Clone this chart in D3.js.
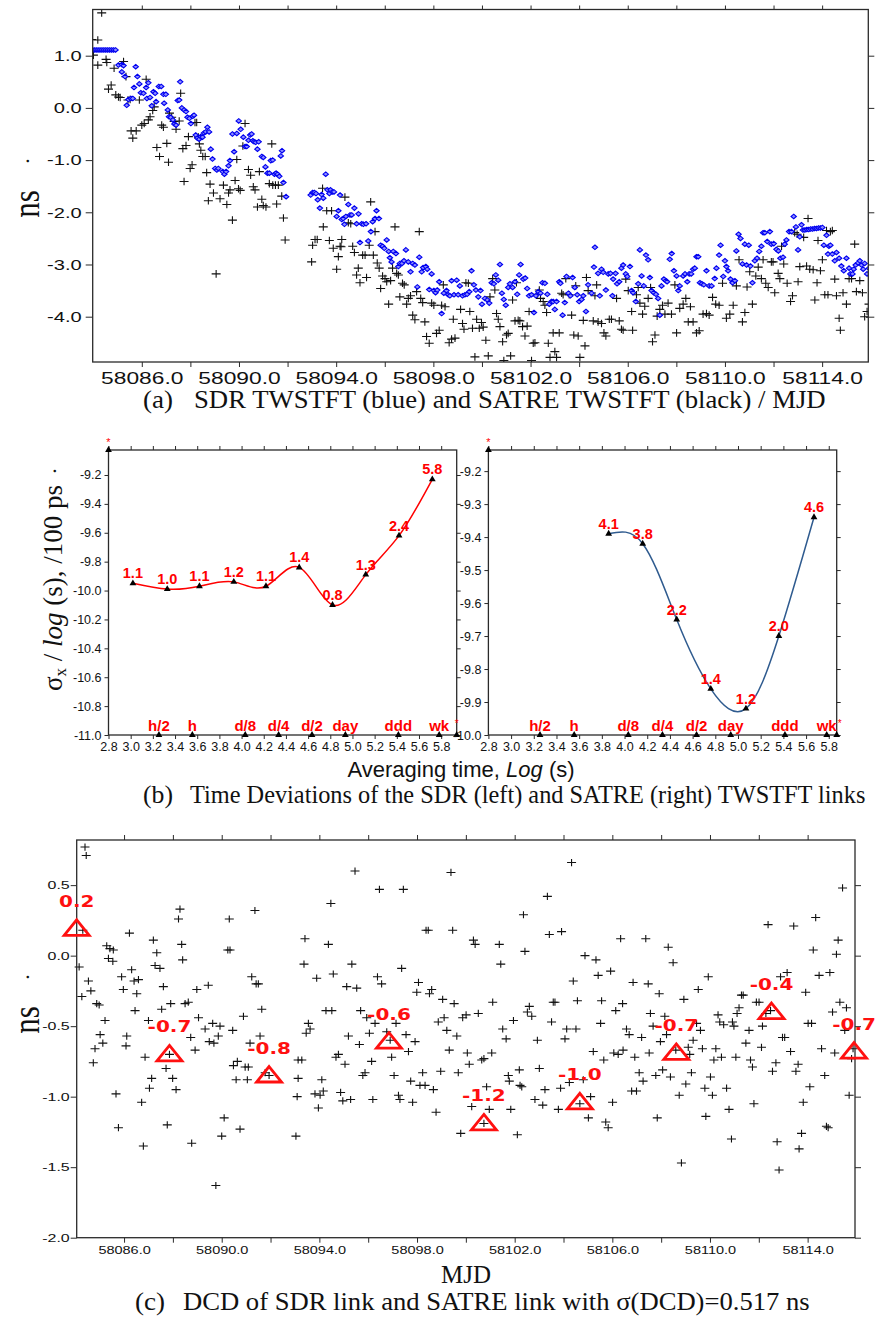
<!DOCTYPE html>
<html><head><meta charset="utf-8">
<script src="https://cdn.jsdelivr.net/npm/d3@7"></script>
<style>body{margin:0;background:#fff}svg{display:block}</style>
</head><body>
<svg id="chart" width="881" height="1318"></svg>
<script>
// ---------------- DATA ----------------
// (a) SDR TWSTFT (blue) [MJD, ns]
const sdrPoints = [
[58083.96,1.11],[58084.04,1.11],[58084.12,1.11],[58084.20,1.11],[58084.28,1.11],[58084.36,1.11],[58084.44,1.11],[58084.52,1.11],[58084.60,1.11],[58084.68,1.11],[58084.76,1.11],[58084.84,1.11],[58084.92,1.11],
[58085.04,0.82],[58085.18,0.83],[58085.25,0.81],[58085.18,0.69],[58085.31,0.60],[58085.38,0.05],[58085.45,0.16],[58085.55,0.18],[58085.63,0.18],[58085.68,0.39],[58085.75,0.79],[58085.82,0.60],[58085.90,0.46],[58085.96,0.29],[58086.07,0.28],[58086.18,0.39],[58086.27,0.48],[58086.21,0.18],[58086.34,0.20],[58086.41,0.04],[58086.48,0.31],[58086.55,0.28],[58086.59,0.12],[58086.70,0.41],[58086.80,0.41],[58086.89,0.26],[58086.99,0.26],[58086.92,0.09],[58087.07,-0.04],[58087.12,-0.17],[58087.19,-0.18],[58087.28,-0.23],[58087.34,-0.31],[58087.41,-0.33],[58087.48,0.14],[58087.54,0.15],[58087.58,0.50],[58087.65,0.00],[58087.74,-0.04],[58087.82,-0.07],[58087.88,-0.18],[58087.96,-0.20],[58088.02,-0.30],[58088.10,-0.16],[58088.15,-0.14],[58088.22,-0.52],[58088.29,-0.58],[58088.36,-0.60],[58088.43,-0.55],[58088.50,-0.56],[58088.56,-0.48],[58088.63,-0.46],[58088.70,-0.37],[58088.77,-0.46],[58088.84,-0.79],[58088.91,-0.98],[58089.02,-1.16],[58089.09,-1.19],[58089.15,-1.16],[58089.33,-1.22],[58089.40,-1.27],[58089.47,-1.22],[58089.57,-1.11],[58089.63,-1.01],[58089.73,-0.50],[58089.80,-0.84],[58089.91,-0.49],[58089.99,-0.25],[58090.07,-0.41],[58090.18,-0.56],[58090.25,-0.74],[58090.32,-0.74],[58090.39,-0.62],[58090.46,-0.52],[58090.52,-0.50],[58090.57,-0.63],[58090.62,-0.65],[58090.69,-0.66],[58090.76,-0.79],[58090.81,-0.65],[58090.94,-0.93],[58091.00,-0.95],[58091.09,-1.13],[58091.17,-1.25],[58091.25,-1.25],[58091.31,-1.01],[58091.39,-1.00],[58091.46,-1.27],[58091.53,-1.25],[58091.59,-1.27],[58091.66,-1.31],[58091.72,-0.92],[58091.77,-0.82],[58091.83,-1.43],[58091.94,-1.70],
[58092.95,-1.67],[58093.03,-1.62],[58093.10,-1.62],[58093.17,-1.64],[58093.24,-1.76],[58093.33,-1.92],[58093.40,-1.66],[58093.47,-1.73],[58093.57,-1.27],[58093.64,-1.57],[58093.72,-1.64],[58093.77,-1.57],[58093.84,-1.61],[58093.91,-1.61],[58094.02,-2.08],[58094.09,-1.97],[58094.16,-1.67],[58094.23,-2.14],[58094.29,-2.12],[58094.34,-2.23],[58094.40,-2.08],[58094.50,-1.85],[58094.57,-2.05],[58094.64,-2.05],[58094.75,-1.92],[58094.84,-2.22],[58094.92,-2.03],[58094.98,-2.58],[58095.05,-2.22],[58095.12,-2.23],[58095.23,-2.22],[58095.32,-2.55],[58095.43,-2.37],[58095.50,-2.18],[58095.60,-2.12],[58095.66,-1.97],[58095.76,-2.12],[58095.83,-2.63],[58095.91,-2.65],[58095.98,-2.69],[58096.08,-2.53],[58096.16,-2.75],[58096.21,-2.87],[58096.28,-2.95],[58096.35,-2.75],[58096.46,-2.79],[58096.56,-3.04],[58096.62,-2.98],[58096.71,-2.98],[58096.79,-2.93],[58096.87,-2.72],[58096.97,-2.95],[58097.06,-3.14],[58097.15,-2.98],[58097.24,-3.01],[58097.34,-3.43],[58097.42,-2.86],[58097.52,-3.14],[58097.58,-3.06],[58097.69,-3.04],[58097.75,-3.09],[58097.83,-3.48],[58097.93,-3.18],[58098.02,-3.50],[58098.09,-3.54],[58098.16,-3.49],[58098.24,-3.33],[58098.34,-3.94],[58098.43,-3.55],[58098.54,-3.50],[58098.61,-3.58],[58098.68,-3.60],[58098.75,-3.31],[58098.85,-3.58],[58098.96,-3.30],[58099.02,-3.58],[58099.09,-3.41],[58099.20,-3.60],[58099.30,-3.58],[58099.39,-3.57],[58099.48,-3.52],[58099.57,-3.12],[58099.67,-3.39],[58099.75,-3.49],[58099.85,-3.62],[58099.94,-3.50],[58100.00,-3.76],[58100.12,-3.65],[58100.22,-3.68],[58100.30,-3.74],[58100.40,-3.35],[58100.49,-3.37],[58100.57,-3.20],[58100.67,-3.30],[58100.74,-3.00],[58100.82,-3.55],[58100.90,-3.67],[58100.98,-3.78],[58101.08,-3.44],[58101.15,-3.37],[58101.26,-3.44],[58101.36,-3.33],[58101.45,-3.57],[58101.53,-3.20],[58101.59,-3.00],[58101.70,-3.28],[58101.78,-3.26],[58101.86,-3.46],[58101.94,-3.60],[58102.04,-3.58],[58102.14,-3.92],[58102.22,-3.60],[58102.32,-3.52],[58102.41,-3.55],[58102.49,-3.35],[58102.59,-3.36],[58102.69,-3.57],[58102.77,-3.76],[58102.86,-3.71],[58102.93,-3.71],[58103.00,-3.86],[58103.07,-3.71],[58103.18,-3.33],[58103.23,-3.36],[58103.32,-3.97],[58103.41,-3.73],[58103.48,-3.23],[58103.56,-3.55],[58103.64,-3.60],[58103.73,-3.25],[58103.82,-3.44],[58103.92,-3.58],[58104.00,-3.71],[58104.10,-3.67],[58104.17,-3.60],[58104.28,-3.90],[58104.37,-3.39],
[58104.51,-3.55],[58104.61,-3.05],[58104.65,-2.67],[58104.78,-3.17],[58104.85,-3.60],[58104.92,-3.09],[58104.99,-3.15],[58105.10,-3.49],[58105.20,-3.18],[58105.29,-3.17],[58105.37,-3.60],[58105.40,-3.28],[58105.50,-3.17],[58105.56,-3.37],[58105.65,-3.33],[58105.74,-3.07],[58105.81,-3.01],[58105.92,-3.18],[58105.98,-3.23],[58106.09,-3.04],[58106.16,-3.50],[58106.22,-3.54],[58106.33,-3.71],[58106.43,-3.37],[58106.50,-2.72],[58106.57,-3.22],[58106.66,-3.41],[58106.75,-2.82],[58106.84,-2.91],[58106.91,-3.25],[58106.98,-3.50],[58107.07,-3.54],[58107.16,-3.57],[58107.25,-3.65],[58107.32,-3.97],[58107.39,-3.41],[58107.49,-3.28],[58107.57,-3.31],[58107.62,-3.33],[58107.73,-2.90],[58107.81,-2.79],[58107.90,-3.12],[58108.01,-3.22],[58108.08,-3.50],[58108.14,-3.41],[58108.28,-3.22],[58108.36,-3.18],[58108.45,-3.33],[58108.53,-3.18],[58108.61,-3.18],[58108.69,-3.09],[58108.76,-3.07],[58108.83,-2.85],[58108.90,-2.85],[58108.97,-3.35],[58109.05,-3.37],[58109.13,-3.39],[58109.24,-3.12],[58109.35,-3.41],[58109.45,-3.41],[58109.58,-3.27],[58109.65,-3.07],[58109.76,-2.82],[58109.82,-2.63],[58109.93,-3.23],[58110.00,-2.93],[58110.06,-3.04],[58110.13,-3.12],[58110.23,-3.28],[58110.31,-3.35],[58110.41,-3.31],[58110.47,-2.74],[58110.56,-2.42],[58110.64,-2.50],[58110.72,-2.99],[58110.82,-2.61],[58110.89,-3.01],[58110.98,-2.63],[58111.05,-3.03],[58111.13,-3.35],[58111.23,-2.93],[58111.32,-2.88],[58111.41,-2.75],[58111.50,-2.65],[58111.57,-2.39],[58111.64,-2.39],[58111.74,-2.56],[58111.85,-2.37],[58111.91,-2.61],[58112.01,-2.60],[58112.12,-2.71],[58112.20,-2.74],[58112.28,-2.88],[58112.39,-2.86],[58112.46,-2.61],[58112.53,-2.53],[58112.64,-2.37],[58112.74,-2.37],[58112.83,-2.08],[58112.92,-2.28],[58113.01,-2.72],[58113.08,-2.47],[58113.15,-2.24],
[58113.21,-2.34],[58113.29,-2.34],[58113.37,-2.33],[58113.45,-2.33],[58113.53,-2.32],[58113.61,-2.32],[58113.69,-2.31],[58113.77,-2.31],[58113.85,-2.30],[58113.93,-2.30],[58114.01,-2.29],
[58114.07,-2.63],[58114.18,-2.44],[58114.24,-2.80],[58114.28,-2.65],[58114.34,-2.63],[58114.42,-2.80],[58114.52,-2.93],[58114.59,-2.77],[58114.70,-2.88],[58114.79,-3.03],[58114.89,-3.12],[58115.00,-2.88],[58115.11,-3.07],[58115.16,-3.18],[58115.25,-3.18],[58115.30,-3.09],[58115.38,-3.01],[58115.48,-2.97],[58115.55,-2.93],[58115.62,-3.01],[58115.69,-3.09],[58115.75,-2.98],[58115.85,-3.18],[58115.93,-3.07]
];

// (a) SATRE TWSTFT (black) [MJD, ns]
const satrePoints = [
[58083.94,1.31],[58084.19,1.30],[58084.35,1.82],[58084.19,0.82],[58084.01,1.01],[58084.53,0.93],[58084.56,0.87],[58084.63,0.36],[58084.74,0.44],[58084.86,0.76],[58084.93,0.25],[58085.04,0.21],[58085.11,0.20],[58085.25,0.89],[58085.35,0.60],[58085.43,0.15],[58085.52,0.16],[58085.56,-0.44],[58085.63,-0.58],[58085.77,-0.44],[58085.90,0.15],[58086.00,-0.33],[58086.10,-0.30],[58086.18,0.55],[58086.27,-0.23],[58086.34,-0.17],[58086.45,-0.05],[58086.51,0.02],[58086.62,-0.76],[58086.73,-0.93],[58086.82,-0.33],[58086.89,-0.37],[58087.03,-0.68],[58087.10,-1.04],[58087.14,-0.10],[58087.23,-0.18],[58087.33,-0.26],[58087.41,-0.41],[58087.54,-0.25],[58087.60,0.28],[58087.69,-0.78],[58087.74,-1.41],[58087.82,-0.72],[58087.92,-0.55],[58087.99,-1.16],[58088.07,-1.09],[58088.19,-0.28],[58088.26,-0.28],[58088.33,-0.56],[58088.37,-0.69],[58088.43,-0.81],[58088.51,-0.93],[58088.61,-0.93],[58088.67,-1.24],[58088.74,-1.78],[58088.81,-1.46],[58088.95,-1.63],[58089.06,-3.18],[58089.22,-1.74],[58089.36,-1.48],[58089.50,-1.85],[58089.57,-1.63],[58089.63,-1.57],[58089.73,-2.15],[58089.84,-1.39],[58089.91,-0.99],[58089.98,-1.55],[58090.05,-1.58],[58090.16,-0.73],[58090.25,-0.30],[58090.39,-1.18],[58090.48,-1.29],[58090.59,-1.51],[58090.66,-1.57],[58090.76,-1.90],[58090.84,-1.22],[58090.94,-1.75],[58091.00,-1.87],[58091.11,-1.90],[58091.25,-1.45],[58091.35,-0.69],[58091.39,-1.48],[58091.50,-1.48],[58091.55,-1.84],[58091.62,-1.48],[58091.76,-1.69],[58091.83,-2.11],[58091.90,-2.53],
[58092.99,-2.95],[58093.03,-2.63],[58093.13,-2.52],[58093.22,-2.52],[58093.44,-1.54],[58093.47,-2.28],[58093.61,-1.97],[58093.72,-2.54],[58093.81,-1.97],[58093.88,-2.69],[58094.02,-3.09],[58094.09,-2.85],[58094.16,-2.65],[58094.20,-2.66],[58094.23,-2.52],[58094.36,-1.71],[58094.50,-2.20],[58094.60,-2.22],[58094.68,-2.65],[58094.75,-2.77],[58094.84,-3.20],[58094.91,-3.07],[58094.98,-3.35],[58095.09,-2.82],[58095.19,-2.82],[58095.25,-3.25],[58095.36,-2.63],[58095.42,-1.80],[58095.53,-2.82],[58095.60,-2.37],[58095.69,-2.97],[58095.77,-3.07],[58095.83,-3.46],[58095.91,-3.22],[58096.01,-3.27],[58096.08,-3.33],[58096.16,-3.76],[58096.24,-3.31],[58096.32,-3.07],[58096.42,-2.28],[58096.49,-3.17],[58096.56,-3.20],[58096.62,-3.62],[58096.73,-3.36],[58096.80,-3.39],[58096.90,-3.76],[58096.97,-3.65],[58097.06,-3.60],[58097.15,-3.97],[58097.24,-4.06],[58097.31,-3.52],[58097.42,-2.37],[58097.48,-3.65],[58097.56,-3.73],[58097.65,-4.10],[58097.72,-4.38],[58097.83,-4.51],[58097.93,-3.74],[58098.02,-3.78],[58098.13,-4.32],[58098.24,-4.26],[58098.34,-3.78],[58098.41,-3.39],[58098.48,-3.81],[58098.65,-4.50],[58098.75,-4.43],[58098.82,-4.05],[58098.89,-4.41],[58099.12,-3.86],[58099.20,-4.13],[58099.26,-4.24],[58099.34,-3.35],[58099.44,-3.36],[58099.50,-3.90],[58099.61,-4.22],[58099.71,-4.77],[58099.78,-4.05],[58099.89,-4.22],[58099.98,-4.11],[58100.05,-4.20],[58100.16,-4.45],[58100.26,-4.75],[58100.33,-3.62],[58100.44,-3.27],[58100.53,-3.49],[58100.60,-3.94],[58100.67,-4.05],[58100.74,-4.19],[58100.85,-4.48],[58100.90,-4.84],[58101.01,-4.35],[58101.08,-4.32],[58101.18,-4.75],[58101.26,-3.68],[58101.36,-4.08],[58101.42,-3.35],[58101.49,-4.07],[58101.56,-4.08],[58101.67,-4.19],[58101.77,-4.37],[58101.86,-4.18],[58101.94,-3.90],[58102.04,-4.84],[58102.11,-4.51],[58102.18,-4.50],[58102.27,-3.57],[58102.36,-3.49],[58102.41,-3.65],[58102.52,-3.71],[58102.59,-3.78],[58102.66,-3.92],[58102.73,-4.51],[58102.80,-4.78],[58102.93,-4.31],[58103.00,-4.67],[58103.07,-4.78],[58103.18,-4.31],[58103.28,-3.55],[58103.34,-3.58],[58103.45,-3.27],[58103.59,-3.58],[58103.69,-3.97],[58103.78,-4.35],[58103.86,-3.41],[58103.96,-4.37],[58104.03,-4.78],[58104.17,-4.07],[58104.24,-4.56],[58104.30,-3.25],[58104.37,-3.50],
[58104.58,-4.08],[58104.65,-3.60],[58104.72,-3.39],[58104.78,-4.10],[58104.92,-4.13],[58105.02,-4.31],[58105.10,-4.37],[58105.24,-4.05],[58105.33,-4.05],[58105.54,-3.65],[58105.65,-4.08],[58105.74,-4.24],[58105.81,-4.26],[58105.92,-3.28],[58106.02,-3.50],[58106.16,-3.90],[58106.20,-4.26],[58106.36,-3.58],[58106.43,-3.44],[58106.50,-3.74],[58106.61,-3.95],[58106.70,-3.80],[58106.84,-3.65],[58106.94,-3.44],[58107.02,-4.48],[58107.12,-4.35],[58107.21,-3.99],[58107.32,-3.86],[58107.43,-3.78],[58107.53,-3.95],[58107.66,-3.74],[58107.80,-3.95],[58107.94,-3.39],[58108.01,-4.31],[58108.14,-3.84],[58108.28,-3.76],[58108.39,-3.65],[58108.49,-4.10],[58108.58,-3.81],[58108.69,-4.10],[58108.83,-4.31],[58108.94,-4.27],[58109.10,-3.95],[58109.24,-3.94],[58109.35,-3.97],[58109.49,-3.63],[58109.62,-3.76],[58109.76,-3.78],[58109.90,-3.36],[58110.06,-4.03],[58110.20,-3.95],[58110.34,-3.78],[58110.47,-3.41],[58110.58,-2.91],[58110.72,-4.10],[58110.82,-3.92],[58110.91,-3.43],[58111.02,-3.14],[58111.13,-3.76],[58111.27,-3.22],[58111.37,-3.05],[58111.50,-3.27],[58111.57,-2.91],[58111.68,-3.36],[58111.78,-3.44],[58111.91,-2.95],[58111.98,-2.95],[58112.05,-3.54],[58112.19,-3.17],[58112.26,-3.27],[58112.33,-2.65],[58112.42,-2.99],[58112.56,-3.36],[58112.70,-3.71],[58112.78,-3.60],[58112.87,-2.39],[58112.97,-2.42],[58113.01,-3.33],[58113.08,-3.04],[58113.24,-2.48],[58113.36,-3.03],[58113.42,-2.12],[58113.49,-3.09],[58113.63,-3.10],[58113.70,-3.68],[58113.79,-3.35],[58113.83,-2.54],[58113.93,-3.12],[58114.01,-2.91],[58114.11,-3.58],[58114.18,-2.35],[58114.24,-3.58],[58114.34,-2.37],[58114.42,-2.35],[58114.52,-3.28],[58114.59,-3.60],[58114.70,-4.03],[58114.75,-4.26],[58114.86,-3.54],[58115.00,-3.76],[58115.11,-3.27],[58115.21,-3.27],[58115.34,-2.61],[58115.41,-3.52],[58115.55,-3.31],[58115.66,-3.54],[58115.75,-4.00],[58115.85,-3.90],[58115.93,-3.76],[58115.99,-4.01]
];
const aTickValues = [58086,58088,58090,58092,58094,58096,58098,58100,58102,58104,58106,58108,58110,58112,58114];
const aTickLabels = [58086,58090,58094,58098,58102,58106,58110,58114];
const aYTicks = [1,0,-1,-2,-3,-4];

// (b) Time deviations: log10(tau) and log10(TDEV)
const sdrLogTau   = [3.02,3.33,3.62,3.93,4.22,4.52,4.82,5.12,5.42,5.72];
const sdrLogTdev  = [-9.95,-9.99,-9.97,-9.94,-9.97,-9.84,-10.10,-9.89,-9.62,-9.23];
const sdrTdevLbl  = ["1.1","1.0","1.1","1.2","1.1","1.4","0.8","1.3","2.4","5.8"];
const satreLogTau  = [3.86,4.16,4.46,4.76,5.07,5.36,5.67];
const satreLogTdev = [-9.39,-9.42,-9.65,-9.86,-9.92,-9.70,-9.34];
const satreTdevLbl = ["4.1","3.8","2.2","1.4","1.2","2.0","4.6"];
const tauMarkLog   = [3.255,3.556,4.033,4.334,4.635,4.936,5.414,5.782];
const tauMarkLabel = ["h/2","h","d/8","d/4","d/2","day","ddd","wk"];
const bXTicks = [2.8,3.0,3.2,3.4,3.6,3.8,4.0,4.2,4.4,4.6,4.8,5.0,5.2,5.4,5.6,5.8];
const bLeftYTicks  = [-9.2,-9.4,-9.6,-9.8,-10.0,-10.2,-10.4,-10.6,-10.8,-11.0];
const bRightYTicks = [-9.2,-9.3,-9.4,-9.5,-9.6,-9.7,-9.8,-9.9,-10.0];

// (c) DCD [MJD, ns]
const dcdPoints = [
[58084.40,0.77],[58084.45,0.71],
[58084.31,0.18],[58084.16,-0.08],[58084.27,-0.29],[58084.54,-0.18],[58084.64,-0.25],[58084.88,-0.34],[58084.98,-0.35],[58084.81,-0.66],[58084.74,-0.76],[58085.02,-0.56],[58085.13,-0.62],[58085.22,-0.46],[58085.29,0.07],[58085.36,-0.02],[58085.42,0.05],[58085.56,0.04],[58085.54,-0.04],[58085.67,-0.98],[58085.77,-1.22],[58085.90,-0.15],[58085.97,-0.24],[58086.08,-0.64],[58086.11,-0.57],[58086.22,0.16],[58086.31,-0.10],[58086.41,-0.18],[58086.45,-0.39],[58086.52,-0.27],[58086.59,-0.17],[58086.72,-1.04],[58086.79,-1.35],[58086.86,-0.72],[58087.00,-0.46],[58087.04,-0.94],[58087.13,-0.87],[58087.20,0.11],[58087.27,-0.07],[58087.34,0.02],[58087.47,-0.09],[58087.54,-0.38],[58087.61,-0.22],[58087.72,-0.80],[58087.77,-1.20],[58087.86,-0.70],[58087.91,-0.34],[58087.99,-0.87],[58088.13,-0.95],[58088.23,0.26],[58088.29,0.33],[58088.36,0.08],[58088.40,-0.03],[58088.50,-0.34],[58088.63,-0.33],[58088.73,-0.58],[58088.77,-1.33],[58088.91,-0.67],[58088.98,-0.24],[58089.05,-0.44],[58089.32,-0.52],[58089.45,-0.21],[58089.49,-0.61],[58089.63,-0.48],[58089.68,-0.62],[58089.76,-1.63],[58089.86,-0.57],[58089.93,-0.50],[58090.00,-1.28],[58090.10,-1.15],[58090.25,0.04],[58090.31,0.26],[58090.34,0.04],[58090.45,-0.53],[58090.48,-0.78],[58090.59,-0.88],[58090.64,-0.75],[58090.75,-1.23],[58090.89,-0.43],[58090.96,-0.79],[58091.05,-0.88],[58091.09,-0.79],[58091.16,-0.62],[58091.23,-0.15],[58091.36,0.32],[58091.41,-0.20],[58091.50,-0.20],[58091.57,-0.57],[58091.64,-0.38],[58091.78,-0.83],[58091.94,-0.85],[58093.04,-1.28],[58093.09,-1.00],[58093.13,-0.87],[58093.13,-0.74],
[58093.28,-0.74],[58093.37,-0.06],[58093.41,0.12],[58093.46,-0.55],[58093.55,-0.48],[58093.62,-0.52],[58093.82,-0.98],[58093.89,-0.16],[58093.96,-1.08],[58094.03,-0.99],[58094.10,-0.88],[58094.16,-0.96],[58094.27,-0.39],[58094.37,0.08],[58094.47,0.37],[58094.51,-0.39],[58094.57,-0.13],[58094.68,-0.72],[58094.78,-0.70],[58094.87,-0.97],[58094.96,-1.03],[58095.05,-0.77],[58095.12,-0.22],[58095.19,-0.57],[58095.28,-1.02],[58095.33,-0.06],[58095.46,0.60],[58095.53,-0.23],[58095.64,-0.63],[58095.69,-0.39],[58095.78,-0.85],[58095.87,-0.83],[58095.94,-0.44],[58096.05,-0.55],[58096.14,-0.75],[58096.19,-1.02],[58096.28,-0.48],[58096.38,-0.15],[58096.46,0.47],[58096.55,-0.20],[58096.76,-0.54],[58096.90,-0.60],[58096.96,-0.72],[58097.06,-0.85],[58097.14,-0.48],[58097.24,-0.99],[58097.30,-1.02],[58097.37,-0.09],[58097.44,0.47],[58097.55,-0.56],[58097.65,-0.68],[58097.74,-0.89],[58097.82,-1.04],[58097.92,-0.61],[58097.99,-0.26],[58098.06,-0.19],[58098.12,-0.92],[58098.23,-0.83],[58098.33,-0.92],[58098.37,0.18],[58098.46,0.18],[58098.51,-0.27],[58098.60,-0.24],[58098.67,-0.95],[58098.78,-1.11],[58098.87,-0.47],[58098.97,-0.82],[58099.05,-0.31],[58099.11,-0.44],[58099.22,-0.53],[58099.32,-0.67],[58099.39,0.59],[58099.46,0.18],[58099.52,-0.34],[58099.63,-0.57],[58099.69,-0.83],[58099.79,-1.26],[58099.87,-0.44],[58100.01,-0.42],[58100.06,-0.69],[58100.14,-0.77],[58100.24,-1.07],[58100.31,0.11],[58100.38,0.08],[58100.51,-0.41],[58100.65,-0.74],[58100.74,-1.19],[58100.74,-0.73],[58100.85,-0.93],[58100.96,-1.09],[58101.06,-0.69],[58101.10,-0.33],[58101.37,0.08],[58101.43,-0.06],[58101.51,-0.52],[58101.65,-0.59],[58101.74,-0.85],[58101.78,-0.89],[58101.84,-1.09],[58101.95,-0.46],[58102.11,-1.27],[58102.19,-0.81],[58102.22,-0.92],[58102.29,-0.93],[58102.36,0.29],[58102.42,0.03],[58102.52,-0.40],[58102.60,-0.36],[58102.70,-0.43],[58102.83,-1.02],[58102.93,-0.60],[58103.01,-0.80],[58103.15,-1.06],[58103.24,-0.95],[58103.34,0.42],[58103.42,0.15],[58103.51,-0.47],[58103.58,-0.33],[58103.65,-0.33],[58103.79,-1.09],[58103.88,-0.94],[58103.92,0.17],[58104.06,-0.59],[58104.13,-0.52],[58104.24,-0.90],[58104.33,0.66],[58104.40,-0.18],[58104.51,-0.52],[58104.57,-0.32],[58104.67,-1.05],[58104.81,-0.88],[58104.88,0.00],[58105.02,-1.15],
[58105.11,-1.00],[58105.22,-0.68],[58105.33,-0.03],[58105.42,-0.14],[58105.52,-0.48],[58105.56,-0.32],[58105.65,-0.74],[58105.73,-1.18],[58105.83,-1.22],[58105.93,-0.11],[58106.01,-1.04],[58106.06,-0.69],[58106.14,-0.39],[58106.24,-0.70],[58106.34,0.12],[58106.42,-0.34],[58106.44,-0.67],[58106.58,-0.52],[58106.69,-0.56],[58106.79,-0.96],[58106.85,-0.19],[58106.92,-0.72],[58106.99,-0.96],[58107.10,-0.83],[58107.20,-0.58],[58107.26,-0.89],[58107.37,0.12],[58107.47,-0.20],[58107.51,-0.69],[58107.56,-0.41],[58107.67,-0.50],[58107.78,-0.85],[58107.84,-1.15],[58107.92,-0.27],[58107.97,-0.61],[58108.06,-0.81],[58108.15,-0.43],[58108.22,-0.56],[58108.29,0.06],[58108.38,-0.86],[58108.49,-0.05],[58108.60,-0.67],[58108.74,-0.99],[58108.83,-1.47],[58108.93,-0.31],[58109.01,-0.91],[58109.11,-0.65],[58109.17,-0.70],[58109.24,-0.83],[58109.31,-0.60],[58109.45,-0.48],[58109.52,-0.24],[58109.61,-0.53],[58109.69,-0.66],[58109.79,-0.94],[58109.83,-1.14],[58109.93,-0.15],[58110.02,-0.86],[58110.10,-0.99],[58110.16,-0.74],[58110.24,-0.66],[58110.33,-0.42],[58110.40,-0.47],[58110.47,-0.72],[58110.56,-0.49],[58110.68,-0.94],[58110.78,-1.09],[58110.88,-1.30],[58110.92,-0.47],[58110.98,-0.50],[58111.06,-0.72],[58111.11,-0.41],[58111.19,-0.37],[58111.29,-0.28],[58111.36,-0.28],[58111.47,-0.62],[58111.60,-0.53],[58111.66,-0.74],[58111.74,-0.79],[58111.80,-1.05],[58111.90,-0.33],[58112.01,-0.33],[58112.11,-0.65],[58112.15,-0.50],[58112.29,-0.41],[58112.38,0.22],[58112.48,-0.39],[58112.56,-0.82],[58112.70,-0.76],[58112.75,-1.32],[58112.83,-1.52],[58112.89,-0.15],[58112.97,-0.58],[58113.06,-0.58],[58113.16,-0.12],[58113.30,-0.68],[58113.43,0.21],[58113.52,-0.82],[58113.61,-0.77],[58113.65,-1.37],[58113.75,-1.26],[58113.82,-1.04],[58113.92,-0.26],[58114.02,-0.48],[58114.09,-0.93],[58114.16,-0.48],[58114.23,0.04],[58114.33,0.27],[58114.47,-0.14],[58114.57,-0.66],[58114.70,-0.85],[58114.77,-1.21],[58114.84,-1.22],[58114.91,-0.12],[58115.02,-0.40],[58115.11,-0.69],[58115.18,0.01],[58115.25,0.11],[58115.32,-0.33],[58115.43,0.48],[58115.52,-0.53],[58115.59,-0.37],[58115.70,-0.99],[58115.80,-0.73],[58115.86,-0.66]
];
const dcdMarkMjd   = [58084.06,58087.86,58091.94,58096.85,58100.74,58104.67,58108.62,58112.52,58115.90];
const dcdMarkNs    = [0.19,-0.70,-0.85,-0.61,-1.19,-1.04,-0.69,-0.40,-0.68];
const dcdMarkLabel = ["0.2","-0.7","-0.8","-0.6","-1.2","-1.0","-0.7","-0.4","-0.7"];
const cYTicks = [0.5,0,-0.5,-1,-1.5,-2];

// ---------------- DRAWING ----------------
const svg = d3.select("#chart");
const SANS = "'Liberation Sans', Arial, sans-serif";
const SERIF = "'Liberation Serif', 'Times New Roman', serif";
const FRAME = "#2a2a2a";

function stretch(sel, k){
  sel.each(function(){
    const w = this.getComputedTextLength();
    if (w > 0) d3.select(this).attr("textLength", w*k).attr("lengthAdjust","spacingAndGlyphs");
  });
}
// caption text fitted to a target width with a horizontal scale transform
function fitText(parent, str, x, y, width, size){
  const t = parent.append("text").attr("x",0).attr("y",0).attr("font-family",SERIF)
    .attr("font-size",size).attr("fill","#111").text(str);
  const w = t.node().getComputedTextLength();
  t.attr("transform",`translate(${x},${y}) scale(${width/w},1)`);
  return t;
}
function frame(g, x0, x1, y0, y1){
  g.append("rect").attr("x",x0).attr("y",y0).attr("width",x1-x0).attr("height",y1-y0)
   .attr("fill","none").attr("stroke",FRAME).attr("stroke-width",1.3);
}
function styleAxis(g, fontSize){
  g.select(".domain").remove();
  g.selectAll(".tick line").attr("stroke",FRAME).attr("stroke-width",1);
  g.selectAll("text").attr("font-family",SANS).attr("font-size",fontSize).attr("fill","#111");
}

// ===== Panel (a) =====
const aL=92.7, aR=868.3, aT=9.5, aB=362;
const xA = d3.scaleLinear().domain([58083.98,58115.9]).range([aL,aR]);
const yA = d3.scaleLinear().domain([-4.868,1.885]).range([aB,aT]);
const gA = svg.append("g");
svg.append("clipPath").attr("id","clipA").append("rect").attr("x",aL).attr("y",aT).attr("width",aR-aL).attr("height",aB-aT);

let ax = gA.append("g").attr("transform",`translate(0,${aB})`)
  .call(d3.axisBottom(xA).tickValues(aTickValues).tickSize(5).tickPadding(5)
    .tickFormat(d => aTickLabels.includes(d) ? d.toFixed(1) : ""));
styleAxis(ax, 17); stretch(ax.selectAll("text"), 1.34);
ax = gA.append("g").attr("transform",`translate(0,${aT})`)
  .call(d3.axisTop(xA).tickValues(aTickValues).tickSize(4).tickFormat(""));
styleAxis(ax, 10);
ax = gA.append("g").attr("transform",`translate(${aL},0)`)
  .call(d3.axisLeft(yA).tickValues(aYTicks).tickSize(7).tickPadding(4).tickFormat(d=>d.toFixed(1)));
styleAxis(ax, 15); stretch(ax.selectAll("text"), 1.34);
ax = gA.append("g").attr("transform",`translate(${aR},0)`)
  .call(d3.axisRight(yA).tickValues(aYTicks).tickSize(6).tickFormat(""));
styleAxis(ax, 10);

const ptsA = gA.append("g").attr("clip-path","url(#clipA)");
ptsA.selectAll("path.sat").data(satrePoints).join("path").attr("class","sat")
  .attr("d","M-4.5,0H4.5M0,-3.8V3.8")
  .attr("transform",d=>`translate(${xA(d[0])},${yA(d[1])})`)
  .attr("stroke","#111").attr("stroke-width",1.1).attr("fill","none");
ptsA.selectAll("path.sdr").data(sdrPoints).join("path").attr("class","sdr")
  .attr("d","M0,-2.3L2.7,0L0,2.3L-2.7,0Z")
  .attr("transform",d=>`translate(${xA(d[0])},${yA(d[1])})`)
  .attr("fill","#8c8cff").attr("stroke","#0000f0").attr("stroke-width",1.1);
frame(gA, aL, aR, aT, aB);

gA.append("text").attr("transform","translate(39,204) rotate(-90) scale(1,1.25)")
  .attr("text-anchor","middle").attr("font-family",SERIF).attr("font-size",31).attr("fill","#111").text("ns");
gA.append("text").attr("transform","translate(29,161) rotate(-90)")
  .attr("text-anchor","middle").attr("font-family",SERIF).attr("font-size",22).attr("fill","#111").text(".");

fitText(gA, "(a)", 143, 408, 30, 25);
fitText(gA, "SDR TWSTFT (blue) and SATRE TWSTFT (black) / MJD", 194, 408, 632, 25);

// ===== Panel (b) =====
const bT=450, bB=735;
function tdevPanel(x0, x1, xDomain, yDomain, yTicks, logTau, logTdev, lbls, curveColor, starDx){
  const g = svg.append("g");
  const x = d3.scaleLinear().domain(xDomain).range([x0,x1]);
  const y = d3.scaleLinear().domain(yDomain).range([bB,bT]);
  let a = g.append("g").attr("transform",`translate(0,${bB})`)
    .call(d3.axisBottom(x).tickValues(bXTicks).tickSize(4).tickPadding(3).tickFormat(d=>d.toFixed(1)));
  styleAxis(a, 12.5);
  a = g.append("g").attr("transform",`translate(0,${bT})`)
    .call(d3.axisTop(x).tickValues(bXTicks).tickSize(4).tickFormat(""));
  styleAxis(a, 10);
  a = g.append("g").attr("transform",`translate(${x0},0)`)
    .call(d3.axisLeft(y).tickValues(yTicks).tickSize(4).tickPadding(3).tickFormat(d=>d.toFixed(1)));
  styleAxis(a, 12.5);
  a = g.append("g").attr("transform",`translate(${x1},0)`)
    .call(d3.axisRight(y).tickValues(yTicks).tickSize(4).tickFormat(""));
  styleAxis(a, 10);
  frame(g, x0, x1, bT, bB);

  const pts = logTau.map((t,i)=>[t, logTdev[i], lbls[i]]);
  g.append("path").datum(pts)
    .attr("d", d3.line().x(d=>x(d[0])).y(d=>y(d[1])).curve(d3.curveNatural))
    .attr("fill","none").attr("stroke",curveColor).attr("stroke-width",1.5);
  const tri = d3.symbol(d3.symbolTriangle, 20);
  g.selectAll("path.pt").data(pts).join("path").attr("class","pt")
    .attr("d",tri).attr("transform",d=>`translate(${x(d[0])},${y(d[1])})`).attr("fill","#000");
  g.selectAll("text.pl").data(pts).join("text").attr("class","pl")
    .attr("x",d=>x(d[0])).attr("y",d=>y(d[1])-5).attr("text-anchor","middle")
    .attr("font-family",SANS).attr("font-weight","bold").attr("font-size",14.5).attr("fill","#ff0000")
    .text(d=>d[2]);
  const marks = tauMarkLog.map((t,i)=>[t, tauMarkLabel[i]]);
  g.selectAll("path.mk").data(marks).join("path").attr("class","mk")
    .attr("d",tri).attr("transform",d=>`translate(${x(d[0])},${bB})`).attr("fill","#000");
  g.selectAll("text.mk").data(marks).join("text").attr("class","mk")
    .attr("x",d=>x(d[0])).attr("y",bB-4).attr("text-anchor","middle")
    .attr("font-family",SANS).attr("font-weight","bold").attr("font-size",15).attr("fill","#ff0000")
    .text(d=>d[1]);
  g.append("path").attr("d",tri).attr("transform",`translate(${x0},${bT})`).attr("fill","#000");
  g.append("text").attr("x",x0).attr("y",bT-4).attr("text-anchor","middle").attr("font-family",SANS)
    .attr("font-size",11).attr("fill","#ff0000").text("*");
  g.append("path").attr("d",tri).attr("transform",`translate(${x1},${bB})`).attr("fill","#000");
  g.append("text").attr("x",x1+starDx).attr("y",bB-8).attr("text-anchor","middle").attr("font-family",SANS)
    .attr("font-size",10).attr("fill","#ff0000").text("*");
  return g;
}
tdevPanel(108.5, 456.7, [2.8,5.94], [-11,-9.027], bLeftYTicks, sdrLogTau, sdrLogTdev, sdrTdevLbl, "#ff0000", 0);
tdevPanel(488.4, 836.7, [2.8,5.87], [-10,-9.136], bRightYTicks, satreLogTau, satreLogTdev, satreTdevLbl, "#2f5b8f", 3);

const yTitle = svg.append("text").attr("transform","translate(62,588) rotate(-90)")
  .attr("text-anchor","middle").attr("font-family",SERIF).attr("font-size",27).attr("fill","#111");
yTitle.append("tspan").text("σ");
yTitle.append("tspan").attr("font-size",17).attr("dy",4).text("x");
yTitle.append("tspan").attr("dy",-4).text(" / ");
yTitle.append("tspan").attr("font-style","italic").text("log");
yTitle.append("tspan").text(" (s), /100 ps");
svg.append("text").attr("transform","translate(56,471) rotate(-90)")
  .attr("text-anchor","middle").attr("font-family",SERIF).attr("font-size",22).attr("fill","#111").text(".");

const xTitle = svg.append("text").attr("x",461).attr("y",777).attr("text-anchor","middle")
  .attr("font-family",SANS).attr("font-size",22).attr("fill","#111");
xTitle.append("tspan").text("Averaging time, ");
xTitle.append("tspan").attr("font-style","italic").text("Log");
xTitle.append("tspan").text(" (s)");

fitText(svg, "(b)", 143, 803, 30, 25);
fitText(svg, "Time Deviations of the SDR (left) and SATRE (right) TWSTFT links", 190, 803, 676, 25);

// ===== Panel (c) =====
const cL=76.7, cR=855, cT=840, cB=1237.7;
const xC = d3.scaleLinear().domain([58084.06,58115.94]).range([cL,cR]);
const yC = d3.scaleLinear().domain([-2.0,0.82]).range([cB,cT]);
const gC = svg.append("g");
ax = gC.append("g").attr("transform",`translate(0,${cB})`)
  .call(d3.axisBottom(xC).tickValues(aTickValues).tickSize(5).tickPadding(3)
    .tickFormat(d => aTickLabels.includes(d) ? d.toFixed(1) : ""));
styleAxis(ax, 11.5); stretch(ax.selectAll("text"), 1.26);
ax = gC.append("g").attr("transform",`translate(0,${cT})`)
  .call(d3.axisTop(xC).tickValues(aTickValues).tickSize(5).tickFormat(""));
styleAxis(ax, 10);
ax = gC.append("g").attr("transform",`translate(${cL},0)`)
  .call(d3.axisLeft(yC).tickValues(cYTicks).tickSize(6).tickPadding(1).tickFormat(d=>d.toFixed(1)));
styleAxis(ax, 11); stretch(ax.selectAll("text"), 1.45);
ax = gC.append("g").attr("transform",`translate(${cR},0)`)
  .call(d3.axisRight(yC).tickValues(cYTicks).tickSize(6).tickFormat(""));
styleAxis(ax, 10);

gC.selectAll("path.dcd").data(dcdPoints).join("path").attr("class","dcd")
  .attr("d","M-4.5,0H4.5M0,-3.6V3.6")
  .attr("transform",d=>`translate(${xC(d[0])},${yC(d[1])})`)
  .attr("stroke","#111").attr("stroke-width",1.1).attr("fill","none");
frame(gC, cL, cR, cT, cB);

const marksC = dcdMarkMjd.map((m,i)=>[m, dcdMarkNs[i], dcdMarkLabel[i]]);
gC.selectAll("path.tm").data(marksC).join("path").attr("class","tm")
  .attr("d","M0,-9L12.5,6.5L-12.5,6.5Z")
  .attr("transform",d=>`translate(${xC(d[0])},${yC(d[1])})`)
  .attr("fill","none").attr("stroke","#ff1010").attr("stroke-width",2.8).attr("stroke-linejoin","miter");
gC.selectAll("text.tm").data(marksC).join("text").attr("class","tm")
  .attr("transform",d=>`translate(${xC(d[0])},${yC(d[1])-22}) scale(1.25,1)`)
  .attr("text-anchor","middle").attr("font-family","'DejaVu Sans', Verdana, sans-serif").attr("font-weight","bold")
  .attr("font-size",16).attr("fill","#ff1010").text(d=>d[2]);

gC.append("text").attr("transform","translate(39,1020) rotate(-90) scale(1,1.25)")
  .attr("text-anchor","middle").attr("font-family",SERIF).attr("font-size",31).attr("fill","#111").text("ns");
gC.append("text").attr("transform","translate(29,977) rotate(-90)")
  .attr("text-anchor","middle").attr("font-family",SERIF).attr("font-size",22).attr("fill","#111").text(".");

gC.append("text").attr("x",466).attr("y",1283).attr("text-anchor","middle").attr("font-family",SERIF)
  .attr("font-size",25).attr("fill","#111").text("MJD");
fitText(gC, "(c)", 135, 1310, 30, 25);
fitText(gC, "DCD of SDR link and SATRE link with σ(DCD)=0.517 ns", 183, 1310, 627, 25);
</script>
</body></html>
